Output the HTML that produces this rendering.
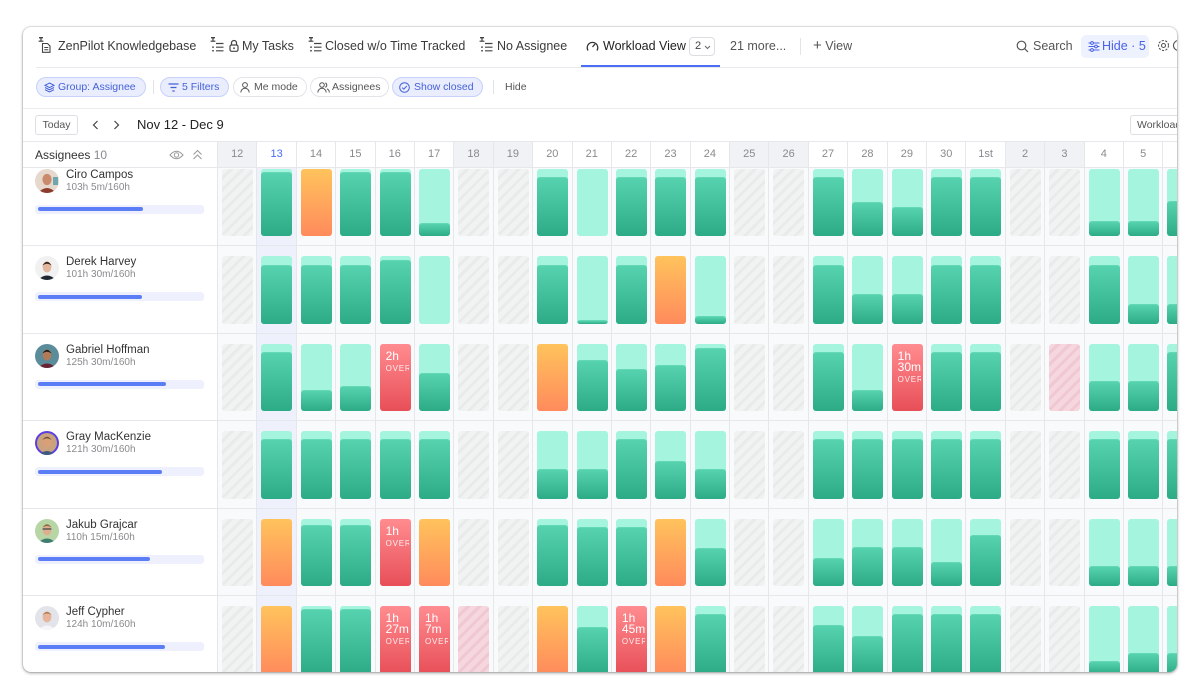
<!DOCTYPE html>
<html><head><meta charset="utf-8">
<style>
*{box-sizing:border-box;margin:0;padding:0}
html,body{width:1200px;height:700px;overflow:hidden;background:#fff;font-family:"Liberation Sans",sans-serif}
.panel{position:absolute;left:23px;top:27px;width:1154px;height:645px;border-radius:8px;overflow:hidden;background:#fff;box-shadow:0 1px 3px rgba(0,0,0,.38),0 0 0 1px rgba(0,0,0,.07)}
.in{position:absolute;left:-23px;top:-27px;width:1200px;height:700px}
.a{position:absolute;white-space:nowrap}
.tab{position:absolute;top:38px;font-size:12.5px;color:#3b3b3b;line-height:16px;white-space:nowrap}
.ico{position:absolute}
.pill{position:absolute;top:77px;height:20px;border-radius:10px;border:1px solid #e3e4e8;background:#fff;font-size:10.5px;color:#555;line-height:18px;white-space:nowrap}
.pill.bl{background:#e9edfd;border-color:#c7d1fa;color:#4561d9}
.pill svg{position:absolute;top:4px}
.pill span{position:absolute;top:0}
.hline{position:absolute;height:1px;background:#e8e9ec}
.cols{position:absolute;left:217px;top:141px;height:531px;display:grid;grid-template-columns:repeat(25,39.4px)}
.cols>div{border-left:1px solid #e6e7ea;background:#f9fafb;height:531px}
.cols>div.t{background:#eef0fb}
.cols .hd{height:27px;background:#fff;border-top:1px solid #e6e7ea;border-bottom:1px solid #e6e7ea;text-align:center;font-size:11px;color:#8a8a8e;line-height:25px}
.cols .we .hd{background:#f1f2f5}
.cols .t .hd{color:#4a6cf7}
.body{position:absolute;left:23px;top:168px;width:1154px;height:504px;overflow:hidden}
.row{position:absolute;left:0;width:1154px;height:87.5px;border-bottom:1px solid #e6e7ea}
.av{position:absolute;left:12px;top:10px;width:24px;height:24px;border-radius:50%;overflow:hidden}
.nm{position:absolute;left:43px;top:9px;font-size:11.5px;color:#333;line-height:14px;white-space:nowrap}
.sb{position:absolute;left:43px;top:23px;font-size:10px;color:#8a8a8e;line-height:12px;white-space:nowrap}
.tr{position:absolute;left:12px;top:46px;width:169px;height:9px;border-radius:3px;background:#eef1fd}
.tr i{position:absolute;left:2.7px;top:2.5px;height:4px;border-radius:2px;background:#5b7ef7}
.cells{position:absolute;left:194px;top:10px;display:grid;grid-template-columns:repeat(25,39.4px)}
.cells>span{display:block;margin-left:5px;width:31px;height:67.5px;border-radius:3px;overflow:hidden;position:relative}
.h{background:repeating-linear-gradient(-45deg,#f1f2f2 0 5px,#e9eaea 5px 8px)}
.p{background:repeating-linear-gradient(-45deg,#f6d6df 0 5px,#efc8d2 5px 8px)}
.o{background:linear-gradient(#ffc35c,#ff8b5c)}
.r{background:linear-gradient(#ff8c90,#e84f58)}
.g{background:#a5f4de}
.g i{position:absolute;left:0;right:0;bottom:0;border-radius:3px 3px 0 0;background:linear-gradient(#56d2ae,#2dab87);border-top:1px solid #62d8b5}
.r b{display:block;font-weight:normal;color:#fff;font-size:12px;line-height:11px;padding:7px 0 0 6px;white-space:pre}
.r small{display:block;color:rgba(255,255,255,.88);font-size:8px;letter-spacing:.8px;line-height:9px;margin:2px 0 0 6px;width:23px;overflow:hidden;white-space:nowrap}
</style></head>
<body>
<div class="panel"><div class="in">

<!-- tab bar -->
<svg class="ico" style="left:38px;top:37px" width="14" height="16" viewBox="0 0 14 16"><g fill="#444"><rect x="1" y="0" width="4" height="1.4"/><rect x="2.4" y="1" width="1.2" height="3"/><rect x="0.6" y="3.6" width="4.8" height="1.2"/></g><path d="M4.5 6.5h5l2.5 2.5v6.3h-7.5z" fill="none" stroke="#444" stroke-width="1.1"/><path d="M6.3 10.5h4M6.3 12.8h4" stroke="#444" stroke-width="1"/></svg>
<div class="tab" style="left:58px">ZenPilot Knowledgebase</div>
<svg class="ico" style="left:210px;top:37px" width="14" height="16" viewBox="0 0 14 16"><g fill="#444"><rect x="1" y="0" width="4" height="1.4"/><rect x="2.4" y="1" width="1.2" height="3"/><rect x="0.6" y="3.6" width="4.8" height="1.2"/><rect x="2.2" y="9.4" width="1.6" height="1.5"/><rect x="2.2" y="13" width="1.6" height="1.5"/></g><path d="M6 6.5h7.5M6 10.2h7.5M6 13.8h7.5" stroke="#444" stroke-width="1.2"/></svg>
<svg class="ico" style="left:229px;top:39px" width="10" height="13" viewBox="0 0 10 13"><path d="M2.5 6V4a2.5 2.5 0 0 1 5 0v2" fill="none" stroke="#444" stroke-width="1.2"/><rect x="1" y="6" width="8" height="6.3" rx="1.5" fill="none" stroke="#444" stroke-width="1.2"/><circle cx="5" cy="9.2" r="0.9" fill="#444"/></svg>
<div class="tab" style="left:242px">My Tasks</div>
<svg class="ico" style="left:308px;top:37px" width="14" height="16" viewBox="0 0 14 16"><g fill="#444"><rect x="1" y="0" width="4" height="1.4"/><rect x="2.4" y="1" width="1.2" height="3"/><rect x="0.6" y="3.6" width="4.8" height="1.2"/><rect x="2.2" y="9.4" width="1.6" height="1.5"/><rect x="2.2" y="13" width="1.6" height="1.5"/></g><path d="M6 6.5h7.5M6 10.2h7.5M6 13.8h7.5" stroke="#444" stroke-width="1.2"/></svg>
<div class="tab" style="left:325px">Closed w/o Time Tracked</div>
<svg class="ico" style="left:479px;top:37px" width="14" height="16" viewBox="0 0 14 16"><g fill="#444"><rect x="1" y="0" width="4" height="1.4"/><rect x="2.4" y="1" width="1.2" height="3"/><rect x="0.6" y="3.6" width="4.8" height="1.2"/><rect x="2.2" y="9.4" width="1.6" height="1.5"/><rect x="2.2" y="13" width="1.6" height="1.5"/></g><path d="M6 6.5h7.5M6 10.2h7.5M6 13.8h7.5" stroke="#444" stroke-width="1.2"/></svg>
<div class="tab" style="left:497px">No Assignee</div>
<svg class="ico" style="left:586px;top:40px" width="13" height="12" viewBox="0 0 13 12"><path d="M2 10.5A5.3 5.3 0 1 1 11 10.5" fill="none" stroke="#333" stroke-width="1.3"/><path d="M6.5 7L9 4" stroke="#333" stroke-width="1.3"/></svg>
<div class="tab" style="left:603px;color:#222">Workload View</div>
<div class="a" style="left:689px;top:37px;width:26px;height:19px;border:1px solid #dcdde1;border-radius:4px;font-size:11px;color:#444;line-height:17px;padding-left:5px">2<svg style="position:absolute;left:14px;top:7px" width="7" height="5" viewBox="0 0 7 5"><path d="M1 1l2.5 2.5L6 1" fill="none" stroke="#666" stroke-width="1"/></svg></div>
<div class="tab" style="left:730px;color:#555">21 more...</div>
<div class="a" style="left:800px;top:38px;width:1px;height:17px;background:#e4e4e7"></div>
<div class="tab" style="left:813px;color:#555"><span style="font-size:15px;position:relative;top:0px">+</span> View</div>
<svg class="ico" style="left:1016px;top:40px" width="13" height="13" viewBox="0 0 13 13"><circle cx="5.5" cy="5.5" r="4.3" fill="none" stroke="#555" stroke-width="1.2"/><path d="M8.7 8.7l3.3 3.3" stroke="#555" stroke-width="1.2"/></svg>
<div class="tab" style="left:1033px;color:#555">Search</div>
<div class="a" style="left:1081px;top:35px;width:68px;height:23px;border-radius:5px;background:#eef1fe"></div>
<svg class="ico" style="left:1088px;top:41px" width="12" height="11" viewBox="0 0 12 11"><path d="M0.5 2h11M0.5 5.5h11M0.5 9h11" stroke="#4a62e8" stroke-width="1"/><circle cx="4" cy="2" r="1.4" fill="#eef1fe" stroke="#4a62e8"/><circle cx="8" cy="5.5" r="1.4" fill="#eef1fe" stroke="#4a62e8"/><circle cx="4" cy="9" r="1.4" fill="#eef1fe" stroke="#4a62e8"/></svg>
<div class="tab" style="left:1102px;color:#4a62e8">Hide · 5</div>
<svg class="ico" style="left:1157px;top:39px" width="13" height="13" viewBox="0 0 13 13"><circle cx="6.5" cy="6.5" r="2" fill="none" stroke="#555" stroke-width="1.1"/><circle cx="6.5" cy="6.5" r="5" fill="none" stroke="#555" stroke-width="1.1" stroke-dasharray="2.2 1.4"/></svg>
<svg class="ico" style="left:1172px;top:39px" width="10" height="13" viewBox="0 0 10 13"><circle cx="6.5" cy="6.5" r="5" fill="none" stroke="#555" stroke-width="1.1"/></svg>
<div class="a" style="left:581px;top:65px;width:139px;height:2px;background:#4c6ef5"></div>
<div class="hline" style="left:36px;top:67px;width:1141px"></div>

<!-- filters -->
<div class="pill bl" style="left:36px;width:110px"><svg style="left:7px" width="11" height="11" viewBox="0 0 11 11"><path d="M5.5 1L10 3.3 5.5 5.6 1 3.3z" fill="none" stroke="#4561d9" stroke-width="1"/><path d="M1 5.5l4.5 2.3L10 5.5M1 7.7l4.5 2.3L10 7.7" fill="none" stroke="#4561d9" stroke-width="1"/></svg><span style="left:21px">Group: Assignee</span></div>
<div class="a" style="left:153px;top:80px;width:1px;height:14px;background:#e2e3e6"></div>
<div class="pill bl" style="left:160px;width:69px"><svg style="left:7px;top:5px" width="11" height="9" viewBox="0 0 11 9"><path d="M0.5 1h10M2.5 4.5h6M4.3 8h2.4" stroke="#4561d9" stroke-width="1.2"/></svg><span style="left:21px">5 Filters</span></div>
<div class="pill" style="left:233px;width:74px"><svg style="left:6px" width="10" height="11" viewBox="0 0 10 11"><circle cx="5" cy="3" r="2.4" fill="none" stroke="#555" stroke-width="1"/><path d="M0.8 10.5a4.2 4.2 0 0 1 8.4 0" fill="none" stroke="#555" stroke-width="1"/></svg><span style="left:20px">Me mode</span></div>
<div class="pill" style="left:310px;width:79px"><svg style="left:6px" width="13" height="11" viewBox="0 0 13 11"><circle cx="5" cy="3" r="2.3" fill="none" stroke="#555" stroke-width="1"/><path d="M0.8 10.5a4.2 4.2 0 0 1 8.4 0" fill="none" stroke="#555" stroke-width="1"/><path d="M8.3 1a2.3 2.3 0 0 1 0 4.3M10 6.8a4 4 0 0 1 2.3 3.7" fill="none" stroke="#555" stroke-width="1"/></svg><span style="left:21px">Assignees</span></div>
<div class="pill bl" style="left:392px;width:91px"><svg style="left:6px" width="11" height="11" viewBox="0 0 11 11"><circle cx="5.5" cy="5.5" r="4.8" fill="none" stroke="#4561d9" stroke-width="1"/><path d="M3.2 5.6l1.6 1.6 3-3.2" fill="none" stroke="#4561d9" stroke-width="1"/></svg><span style="left:21px">Show closed</span></div>
<div class="a" style="left:493px;top:80px;width:1px;height:14px;background:#e2e3e6"></div>
<div class="a" style="left:505px;top:81px;font-size:10.5px;color:#555;line-height:12px">Hide</div>
<div class="hline" style="left:23px;top:108px;width:1154px;background:#ececef"></div>

<!-- date row -->
<div class="a" style="left:35px;top:115px;width:43px;height:20px;border:1px solid #dedfe3;border-radius:3px;font-size:10.5px;color:#555;line-height:18px;text-align:center">Today</div>
<svg class="ico" style="left:92px;top:120px" width="7" height="10" viewBox="0 0 7 10"><path d="M5.5 1L1.5 5l4 4" fill="none" stroke="#444" stroke-width="1.2"/></svg>
<svg class="ico" style="left:113px;top:120px" width="7" height="10" viewBox="0 0 7 10"><path d="M1.5 1l4 4-4 4" fill="none" stroke="#444" stroke-width="1.2"/></svg>
<div class="a" style="left:137px;top:117px;font-size:13px;color:#222;line-height:16px">Nov 12 - Dec 9</div>
<div class="a" style="left:1130px;top:115px;width:60px;height:20px;border:1px solid #dedfe3;border-radius:3px;font-size:10.5px;color:#555;line-height:18px;padding-left:6px">Workload</div>

<!-- header left -->
<div class="hline" style="left:23px;top:141px;width:194px;background:#e6e7ea"></div>
<div class="hline" style="left:23px;top:167px;width:194px;background:#e6e7ea"></div>
<div class="a" style="left:35px;top:148px;font-size:12px;color:#333;line-height:15px">Assignees <span style="color:#8a8a8e">10</span></div>
<svg class="ico" style="left:169px;top:150px" width="15" height="10" viewBox="0 0 15 10"><path d="M1 5Q7.5 -2.5 14 5Q7.5 12.5 1 5Z" fill="none" stroke="#999" stroke-width="1"/><circle cx="7.5" cy="5" r="2.2" fill="none" stroke="#999" stroke-width="1"/></svg>
<svg class="ico" style="left:192px;top:149px" width="11" height="11" viewBox="0 0 11 11"><path d="M1.5 5.5l4-4 4 4M1.5 10l4-4 4 4" fill="none" stroke="#999" stroke-width="1"/></svg>

<!-- columns -->
<div class="cols">
<div class="we"><div class="hd">12</div></div>
<div class="t"><div class="hd">13</div></div>
<div><div class="hd">14</div></div>
<div><div class="hd">15</div></div>
<div><div class="hd">16</div></div>
<div><div class="hd">17</div></div>
<div class="we"><div class="hd">18</div></div>
<div class="we"><div class="hd">19</div></div>
<div><div class="hd">20</div></div>
<div><div class="hd">21</div></div>
<div><div class="hd">22</div></div>
<div><div class="hd">23</div></div>
<div><div class="hd">24</div></div>
<div class="we"><div class="hd">25</div></div>
<div class="we"><div class="hd">26</div></div>
<div><div class="hd">27</div></div>
<div><div class="hd">28</div></div>
<div><div class="hd">29</div></div>
<div><div class="hd">30</div></div>
<div><div class="hd">1st</div></div>
<div class="we"><div class="hd">2</div></div>
<div class="we"><div class="hd">3</div></div>
<div><div class="hd">4</div></div>
<div><div class="hd">5</div></div>
<div><div class="hd">6</div></div>
</div>

<div class="body">
<!-- Row 1 Ciro -->
<div class="row" style="top:-9.5px">
<div class="av"><svg width="24" height="24" viewBox="0 0 24 24"><rect width="24" height="24" fill="#e6d8cc"/><path d="M2 25Q12 13 22 25Z" fill="#8c3b2c"/><ellipse cx="12" cy="10.5" rx="4.6" ry="5.6" fill="#c98b6c"/><rect x="18" y="8" width="5" height="8" fill="#6fa7b0"/></svg></div>
<div class="nm">Ciro Campos</div><div class="sb">103h 5m/160h</div>
<div class="tr"><i style="width:105px"></i></div>
<div class="cells">
<span class="h"></span><span class="g"><i style="height:64px"></i></span><span class="o"></span><span class="g"><i style="height:64px"></i></span><span class="g"><i style="height:64px"></i></span><span class="g"><i style="height:13px"></i></span><span class="h"></span><span class="h"></span><span class="g"><i style="height:59px"></i></span><span class="g"></span><span class="g"><i style="height:59px"></i></span><span class="g"><i style="height:59px"></i></span><span class="g"><i style="height:59px"></i></span><span class="h"></span><span class="h"></span><span class="g"><i style="height:59px"></i></span><span class="g"><i style="height:34px"></i></span><span class="g"><i style="height:29px"></i></span><span class="g"><i style="height:59px"></i></span><span class="g"><i style="height:59px"></i></span><span class="h"></span><span class="h"></span><span class="g"><i style="height:15px"></i></span><span class="g"><i style="height:15px"></i></span><span class="g"><i style="height:35px"></i></span>
</div></div>

<!-- Row 2 Derek -->
<div class="row" style="top:78px">
<div class="av"><svg width="24" height="24" viewBox="0 0 24 24"><rect width="24" height="24" fill="#f1f1f2"/><path d="M2 25Q12 14 22 25Z" fill="#1f2631"/><ellipse cx="12" cy="11" rx="4.4" ry="5.5" fill="#e2b79e"/><path d="M7.4 9.5Q12 2 16.6 9.5Q12 6 7.4 9.5Z" fill="#3a2a20"/></svg></div>
<div class="nm">Derek Harvey</div><div class="sb">101h 30m/160h</div>
<div class="tr"><i style="width:104px"></i></div>
<div class="cells">
<span class="h"></span><span class="g"><i style="height:59px"></i></span><span class="g"><i style="height:59px"></i></span><span class="g"><i style="height:59px"></i></span><span class="g"><i style="height:64px"></i></span><span class="g"></span><span class="h"></span><span class="h"></span><span class="g"><i style="height:59px"></i></span><span class="g"><i style="height:4px"></i></span><span class="g"><i style="height:59px"></i></span><span class="o"></span><span class="g"><i style="height:8px"></i></span><span class="h"></span><span class="h"></span><span class="g"><i style="height:59px"></i></span><span class="g"><i style="height:30px"></i></span><span class="g"><i style="height:30px"></i></span><span class="g"><i style="height:59px"></i></span><span class="g"><i style="height:59px"></i></span><span class="h"></span><span class="h"></span><span class="g"><i style="height:59px"></i></span><span class="g"><i style="height:20px"></i></span><span class="g"><i style="height:20px"></i></span>
</div></div>

<!-- Row 3 Gabriel -->
<div class="row" style="top:165.5px">
<div class="av"><svg width="24" height="24" viewBox="0 0 24 24"><rect width="24" height="24" fill="#5b8c9a"/><path d="M2 25Q12 14 22 25Z" fill="#6b2233"/><ellipse cx="12" cy="11" rx="4.4" ry="5.5" fill="#b17a58"/><path d="M7.4 9.5Q12 2 16.6 9.5Q12 6 7.4 9.5Z" fill="#2a1e18"/></svg></div>
<div class="nm">Gabriel Hoffman</div><div class="sb">125h 30m/160h</div>
<div class="tr"><i style="width:128px"></i></div>
<div class="cells">
<span class="h"></span><span class="g"><i style="height:59px"></i></span><span class="g"><i style="height:21px"></i></span><span class="g"><i style="height:25px"></i></span><span class="r"><b>2h</b><small>OVERLOAD</small></span><span class="g"><i style="height:38px"></i></span><span class="h"></span><span class="h"></span><span class="o"></span><span class="g"><i style="height:51px"></i></span><span class="g"><i style="height:42px"></i></span><span class="g"><i style="height:46px"></i></span><span class="g"><i style="height:63px"></i></span><span class="h"></span><span class="h"></span><span class="g"><i style="height:59px"></i></span><span class="g"><i style="height:21px"></i></span><span class="r"><b>1h
30m</b><small>OVERLOAD</small></span><span class="g"><i style="height:59px"></i></span><span class="g"><i style="height:59px"></i></span><span class="h"></span><span class="p"></span><span class="g"><i style="height:30px"></i></span><span class="g"><i style="height:30px"></i></span><span class="g"><i style="height:59px"></i></span>
</div></div>

<!-- Row 4 Gray -->
<div class="row" style="top:253px">
<div class="av"><svg width="24" height="24" viewBox="0 0 24 24"><rect width="24" height="24" fill="#5b3fe0"/><circle cx="12" cy="12" r="10" fill="#c9a27e"/><path d="M3 25Q12 15 21 25Z" fill="#3e5a7e"/><ellipse cx="12" cy="11" rx="4.5" ry="5.5" fill="#d9a078"/><path d="M7.4 9Q12 2.5 16.6 9Q12 5.5 7.4 9Z" fill="#6a4a30"/></svg></div>
<div class="nm">Gray MacKenzie</div><div class="sb">121h 30m/160h</div>
<div class="tr"><i style="width:124px"></i></div>
<div class="cells">
<span class="h"></span><span class="g"><i style="height:60px"></i></span><span class="g"><i style="height:60px"></i></span><span class="g"><i style="height:60px"></i></span><span class="g"><i style="height:60px"></i></span><span class="g"><i style="height:60px"></i></span><span class="h"></span><span class="h"></span><span class="g"><i style="height:30px"></i></span><span class="g"><i style="height:30px"></i></span><span class="g"><i style="height:60px"></i></span><span class="g"><i style="height:38px"></i></span><span class="g"><i style="height:30px"></i></span><span class="h"></span><span class="h"></span><span class="g"><i style="height:60px"></i></span><span class="g"><i style="height:60px"></i></span><span class="g"><i style="height:60px"></i></span><span class="g"><i style="height:60px"></i></span><span class="g"><i style="height:60px"></i></span><span class="h"></span><span class="h"></span><span class="g"><i style="height:60px"></i></span><span class="g"><i style="height:60px"></i></span><span class="g"><i style="height:60px"></i></span>
</div></div>

<!-- Row 5 Jakub -->
<div class="row" style="top:340.5px">
<div class="av"><svg width="24" height="24" viewBox="0 0 24 24"><rect width="24" height="24" fill="#b8d5a6"/><path d="M2 25Q12 14 22 25Z" fill="#3f7d6e"/><ellipse cx="12" cy="11" rx="4.4" ry="5.5" fill="#deae8e"/><path d="M7.6 10h8.8" stroke="#444" stroke-width="1.2"/><path d="M7.4 8.5Q12 2 16.6 8.5Q12 5.5 7.4 8.5Z" fill="#8a6a40"/></svg></div>
<div class="nm">Jakub Grajcar</div><div class="sb">110h 15m/160h</div>
<div class="tr"><i style="width:112px"></i></div>
<div class="cells">
<span class="h"></span><span class="o"></span><span class="g"><i style="height:61px"></i></span><span class="g"><i style="height:61px"></i></span><span class="r"><b>1h</b><small>OVERLOAD</small></span><span class="o"></span><span class="h"></span><span class="h"></span><span class="g"><i style="height:61px"></i></span><span class="g"><i style="height:59px"></i></span><span class="g"><i style="height:59px"></i></span><span class="o"></span><span class="g"><i style="height:38px"></i></span><span class="h"></span><span class="h"></span><span class="g"><i style="height:28px"></i></span><span class="g"><i style="height:39px"></i></span><span class="g"><i style="height:39px"></i></span><span class="g"><i style="height:24px"></i></span><span class="g"><i style="height:51px"></i></span><span class="h"></span><span class="h"></span><span class="g"><i style="height:20px"></i></span><span class="g"><i style="height:20px"></i></span><span class="g"><i style="height:20px"></i></span>
</div></div>

<!-- Row 6 Jeff -->
<div class="row" style="top:428px">
<div class="av"><svg width="24" height="24" viewBox="0 0 24 24"><rect width="24" height="24" fill="#e3e4ea"/><path d="M2 25Q12 14 22 25Z" fill="#f6f6f8"/><ellipse cx="12" cy="11" rx="4.4" ry="5.5" fill="#e6b59c"/><path d="M7.4 9.2Q12 2.5 16.6 9.2Q12 5.8 7.4 9.2Z" fill="#b07a50"/></svg></div>
<div class="nm">Jeff Cypher</div><div class="sb">124h 10m/160h</div>
<div class="tr"><i style="width:127px"></i></div>
<div class="cells">
<span class="h"></span><span class="o"></span><span class="g"><i style="height:64.5px"></i></span><span class="g"><i style="height:64.5px"></i></span><span class="r"><b>1h
27m</b><small>OVERLOAD</small></span><span class="r"><b>1h
7m</b><small>OVERLOAD</small></span><span class="p"></span><span class="h"></span><span class="o"></span><span class="g"><i style="height:46.5px"></i></span><span class="r"><b>1h
45m</b><small>OVERLOAD</small></span><span class="o"></span><span class="g"><i style="height:59.5px"></i></span><span class="h"></span><span class="h"></span><span class="g"><i style="height:48.5px"></i></span><span class="g"><i style="height:38px"></i></span><span class="g"><i style="height:59.5px"></i></span><span class="g"><i style="height:59.5px"></i></span><span class="g"><i style="height:59.5px"></i></span><span class="h"></span><span class="h"></span><span class="g"><i style="height:12.5px"></i></span><span class="g"><i style="height:21px"></i></span><span class="g"><i style="height:21px"></i></span>
</div></div>
</div>

</div></div>
</body></html>
